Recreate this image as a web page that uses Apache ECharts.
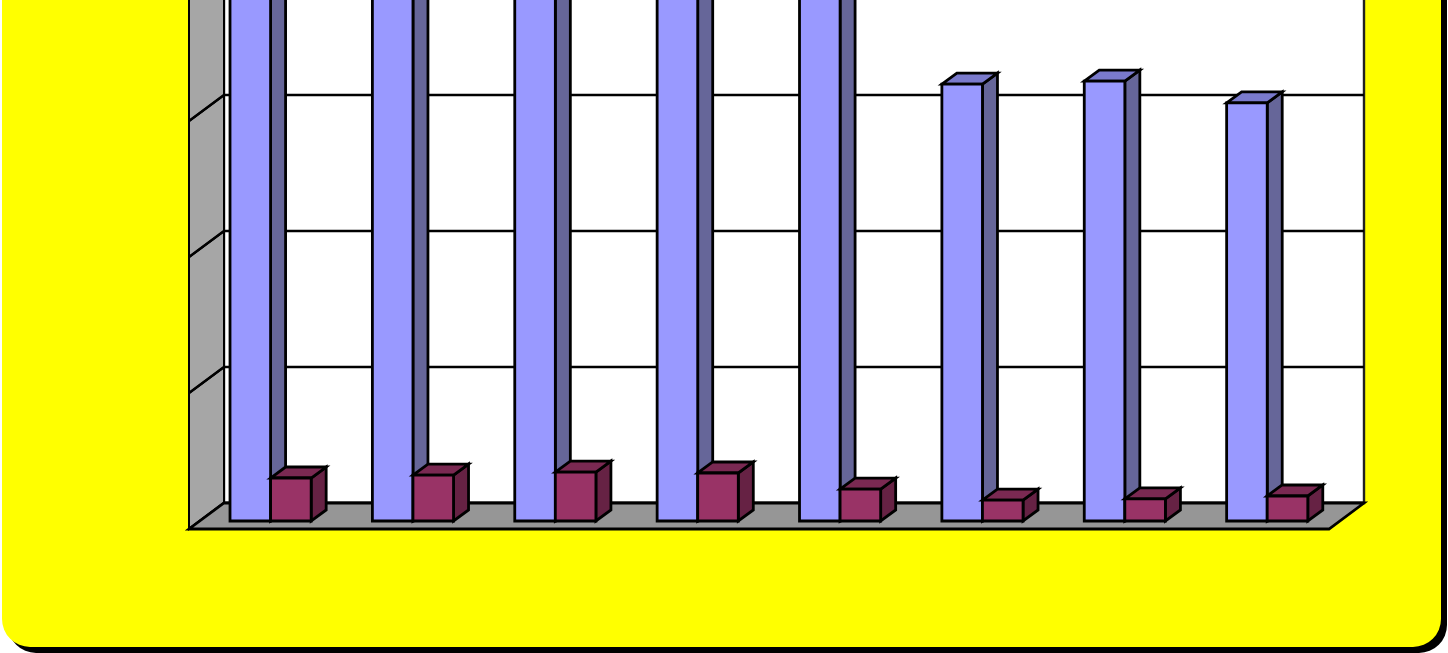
<!DOCTYPE html>
<html>
<head>
<meta charset="utf-8">
<style>html,body{margin:0;padding:0;background:#fff;overflow:hidden}#c{width:1448px;height:653px}</style>
<script src="https://cdn.jsdelivr.net/npm/echarts@6/dist/echarts.min.js"></script>
</head>
<body>
<div id="c"></div>
<script>
var categories = ['1', '2', '3', '4', '5', '6', '7', '8'];
var blueValues = [4300, 4400, 4500, 4500, 4300, 3213, 3235, 3074];
var redValues = [316, 338, 360, 353, 235, 154, 162, 184];
var wallTicks = [0, 1000, 2000, 3000, 4000];
var tickStep = 1000;
var axisMax = 5000;

var chart = echarts.init(document.getElementById('c'), null, {renderer: 'canvas'});

function poly(points, fill, width) {
  return {
    type: 'polygon',
    shape: {points: points},
    style: {fill: fill, stroke: '#000', lineWidth: width === undefined ? 2.8 : width, lineJoin: 'miter'}
  };
}

function barRenderer(side, front, sideFill, topFill) {
  return function (params, api) {
    var c = api.coord([api.value(0), api.value(1)]);
    var base = api.coord([api.value(0), 0]);
    var w = api.size([1, 0])[0] * 0.285;
    var x0 = side < 0 ? c[0] - w : c[0];
    var x1 = x0 + w;
    var dx = 15, dy = 11;
    return {
      type: 'group',
      children: [
        poly([[x1, c[1]], [x1 + dx, c[1] - dy], [x1 + dx, base[1] - dy], [x1, base[1]]], sideFill),
        poly([[x0, c[1]], [x0 + dx, c[1] - dy], [x1 + dx, c[1] - dy], [x1, c[1]]], topFill),
        poly([[x0, c[1]], [x1, c[1]], [x1, base[1]], [x0, base[1]]], front)
      ]
    };
  };
}

function wallRenderer(params, api) {
  var dx = 35, dy = 26;
  var v = api.value(1);
  var a = api.coord([0, v]);
  var b = api.coord([0, v + tickStep]);
  var children = [
    poly([[a[0], a[1]], [b[0], b[1]], [b[0] - dx, b[1] + dy], [a[0] - dx, a[1] + dy]], '#a6a6a6', 2),
    {type: 'line', shape: {x1: a[0], y1: a[1], x2: a[0] - dx, y2: a[1] + dy}, style: {stroke: '#000', lineWidth: 2.5}}
  ];
  if (params.dataIndex === 0) {
    var r = api.coord([1, 0]);
    children.push(poly([[a[0], a[1]], [r[0], r[1]], [r[0] - dx, r[1] + dy], [a[0] - dx, a[1] + dy]], '#969696', 2.8));
  }
  return {type: 'group', children: children};
}

chart.setOption({
  animation: false,
  backgroundColor: '#fff',
  graphic: [
    {type: 'rect', z: -20, shape: {x: 8, y: -60, width: 1439, height: 713, r: 28}, style: {fill: '#000'}, silent: true},
    {type: 'rect', z: -19, shape: {x: 2, y: -60, width: 1439, height: 707, r: 28}, style: {fill: '#ff0'}, silent: true}
  ],
  grid: [
    {left: 199.4, width: 1139, top: -159, height: 680, show: false, outerBoundsMode: 'none'},
    {left: 224, width: 1140, top: -177, height: 680, show: true, backgroundColor: '#fff', borderColor: '#222', borderWidth: 2.4, outerBoundsMode: 'none'}
  ],
  xAxis: [
    {gridIndex: 0, type: 'category', data: categories, show: false},
    {gridIndex: 1, type: 'value', min: 0, max: 1, show: false, splitLine: {show: false}}
  ],
  yAxis: [
    {gridIndex: 0, type: 'value', min: 0, max: axisMax, interval: tickStep, show: false, splitLine: {show: false}},
    {gridIndex: 1, type: 'value', min: 0, max: axisMax, interval: tickStep,
      axisLine: {show: false}, axisTick: {show: false}, axisLabel: {show: false},
      splitLine: {show: true, lineStyle: {color: '#000', width: 2.4, type: 'solid'}}}
  ],
  series: [
    {type: 'custom', xAxisIndex: 1, yAxisIndex: 1, z: 2, silent: true,
      data: wallTicks.map(function (t) { return [0, t]; }),
      renderItem: wallRenderer},
    {type: 'custom', xAxisIndex: 0, yAxisIndex: 0, z: 3, silent: true,
      data: blueValues.map(function (v, i) { return [i, v]; }),
      renderItem: barRenderer(-1, '#9999ff', '#666699', '#7a7acc')},
    {type: 'custom', xAxisIndex: 0, yAxisIndex: 0, z: 4, silent: true,
      data: redValues.map(function (v, i) { return [i, v]; }),
      renderItem: barRenderer(1, '#993366', '#662244', '#7a2952')}
  ]
});
</script>
</body>
</html>
